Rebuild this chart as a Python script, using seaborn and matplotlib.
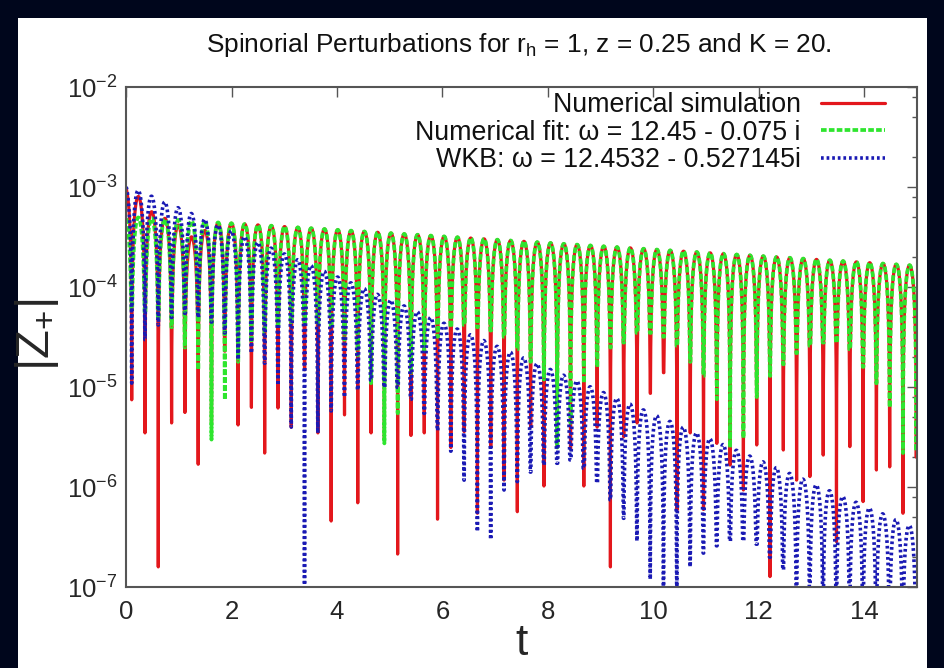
import numpy as np
import pandas as pd
import matplotlib
matplotlib.use("Agg")
import matplotlib.pyplot as plt
import seaborn as sns
from matplotlib.patches import Rectangle
from matplotlib.ticker import FixedLocator, FuncFormatter, NullFormatter

# ---------------- data ----------------
t_limits = [0.0, 15.0]
x_ticks = [0, 2, 4, 6, 8, 10, 12, 14]
y_decades = [-7, -6, -5, -4, -3, -2]
y_minor_mult = [2, 5, 8]

series_labels = ["Numerical simulation",
                 "Numerical fit: \u03c9 = 12.45 - 0.075 i",
                 "WKB: \u03c9 = 12.4532 - 0.527145i"]

# complex frequencies quoted in the legend (Re, -Im)
omega_fit = [12.45, 0.075]
omega_wkb = [12.4532, 0.527145]

first_node_t = 0.104          # time of the first zero of |Z+|
amp_fit = 5.08e-4             # fit amplitude at t = 0
amp_wkb = 1.05e-3             # WKB amplitude at t = 0
# peaks of the first humps of the simulation (before it merges with the fit)
sim_early_peaks = [1.0e-3, 8.1e-4, 5.7e-4, 4.9e-4, 4.2e-4, 3.2e-4, 3.7e-4, 4.4e-4]

# depth of each dip (one per zero crossing, k = 0..59)
sim_dips = [7.5e-6, 3.5e-6, 1.6e-7, 4.4e-6, 5.6e-6, 1.7e-6, 4.4e-6, 2.3e-5, 4.2e-6, 6.3e-6,
            2.2e-6, 6.2e-6, 4.0e-6, 1.5e-5, 3.5e-6, 4.6e-7, 5.3e-6, 7.0e-7, 3.5e-6, 3.0e-6,
            2.15e-7, 3.3e-6, 3.5e-6, 4.8e-7, 2.5e-6, 3.6e-6, 5.5e-7, 2.6e-6, 1.18e-6, 5.7e-7,
            4.0e-6, 1.03e-6, 2.5e-6, 2.4e-6, 1.03e-6, 4.0e-6, 1.6e-7, 3.2e-6, 4.4e-6, 8.7e-6,
            1.4e-5, 5.9e-7, 3.5e-6, 6.0e-7, 2.75e-6, 1.67e-6, 9.4e-7, 2.65e-6, 1.28e-7, 2.36e-6,
            1.18e-6, 1.28e-6, 2.1e-6, 2.86e-7, 2.55e-6, 7.2e-7, 1.49e-6, 1.6e-6, 5.5e-7, 2.0e-6]
fit_dips = [6.0e-5, 5.5e-5, 4.8e-5, 4.0e-5, 2.5e-5, 1.5e-5, 3.0e-6, 7.5e-6, 1.8e-5, 2.8e-5,
            3.5e-5, 4.2e-5, 4.5e-5, 4.5e-5, 4.2e-5, 4.0e-5, 3.0e-5, 2.1e-5, 1.1e-5, 2.75e-6,
            5.5e-6, 1.4e-5, 2.3e-5, 3.2e-5, 4.0e-5, 4.2e-5, 4.0e-5, 3.7e-5, 3.2e-5, 2.4e-5,
            1.8e-5, 1.2e-5, 2.5e-6, 4.4e-6, 1.1e-5, 1.6e-5, 2.5e-5, 2.8e-5, 3.5e-5, 3.5e-5,
            3.2e-5, 2.6e-5, 1.8e-5, 1.3e-5, 7.6e-6, 2.5e-6, 3.1e-6, 8.0e-6, 1.3e-5, 1.7e-5,
            2.2e-5, 2.6e-5, 2.8e-5, 2.8e-5, 2.4e-5, 1.6e-5, 1.1e-5, 6.3e-6, 2.2e-6, 2.3e-6]
wkb_dips = [1.1e-5, 3.0e-5, 4.2e-5, 5.0e-5, 5.5e-5, 5.0e-5, 4.5e-5, 3.5e-5, 1.9e-5, 2.2e-5,
            1.74e-5, 1.05e-5, 4.0e-6, 4.0e-8, 3.5e-6, 5.8e-6, 8.0e-6, 9.4e-6, 1.18e-5, 1.0e-5,
            1.0e-5, 7.6e-6, 5.5e-6, 3.7e-6, 2.3e-6, 1.18e-6, 3.6e-7, 3.0e-7, 9.4e-7, 1.14e-6,
            1.42e-6, 1.67e-6, 1.74e-6, 1.88e-6, 1.55e-6, 1.1e-6, 7.5e-7, 4.9e-7, 2.9e-7, 1.2e-7,
            5.0e-8, 5.0e-8, 1.6e-7, 2.2e-7, 2.6e-7, 2.9e-7, 2.9e-7, 2.7e-7, 2.0e-7, 1.5e-7,
            5.0e-8, 5.0e-8, 5.0e-8, 5.0e-8, 5.0e-8, 5.0e-8, 5.0e-8, 5.0e-8, 5.0e-8, 5.0e-8]

series_colors = ["#e3171c", "#2ee52e", "#1a1ab4"]


def damped_mode(omega, gamma, amp, dips, early_peaks=None):
    period = np.pi / omega
    nodes = first_node_t + period * np.arange(len(dips))
    grid = np.linspace(t_limits[0], t_limits[1], 30001)
    t = np.union1d(grid, nodes[nodes <= t_limits[1]])
    phase = np.pi / 2 - omega * first_node_t
    env = amp * np.exp(-gamma * t)
    if early_peaks is not None:
        hump = np.searchsorted(nodes, t, side="left")
        for j, p in enumerate(early_peaks):
            env[hump == j] = p
    y = env * np.abs(np.cos(omega * t + phase))
    k = np.clip(np.rint((t - first_node_t) / period).astype(int), 0, len(dips) - 1)
    y = np.maximum(y, np.asarray(dips)[k])
    return pd.DataFrame({"t": t, "Z": y})


df_sim = damped_mode(omega_fit[0], omega_fit[1], amp_fit, sim_dips, sim_early_peaks)
df_fit = damped_mode(omega_fit[0], omega_fit[1], amp_fit, fit_dips)
df_wkb = damped_mode(omega_wkb[0], omega_wkb[1], amp_wkb, wkb_dips)

# ---------------- styling ----------------
sns.set_theme(style="white")
plt.rcParams["font.family"] = ["Liberation Sans", "DejaVu Sans"]
plt.rcParams["mathtext.fontset"] = "custom"
plt.rcParams["mathtext.rm"] = "Liberation Sans"
plt.rcParams["mathtext.it"] = "Liberation Sans:italic"
plt.rcParams["text.color"] = "#111111"

W, H = 944, 668
fig = plt.figure(figsize=(W / 100, H / 100), dpi=100, facecolor="#00061c")
fig.patches.append(Rectangle((18 / W, 0), (927 - 18) / W, 1 - 18 / H,
                             transform=fig.transFigure, facecolor="white",
                             edgecolor="none", zorder=-10))
ax = fig.add_axes([126.2 / W, 1 - 587.3 / H, (916.7 - 126.2) / W, 500 / H])
ax.set_facecolor("white")

sns.lineplot(data=df_sim, x="t", y="Z", ax=ax, color=series_colors[0], lw=2.3,
             estimator=None, sort=False, label=series_labels[0])
sns.lineplot(data=df_fit, x="t", y="Z", ax=ax, color=series_colors[1], lw=2.7,
             estimator=None, sort=False, label=series_labels[1],
             linestyle=(0, (1.5, 0.6)))
sns.lineplot(data=df_wkb, x="t", y="Z", ax=ax, color=series_colors[2], lw=2.6,
             estimator=None, sort=False, label=series_labels[2],
             linestyle=(0, (0.75, 0.8)))

ax.set_yscale("log")
ax.set_xlim(*t_limits)
ax.set_ylim(10.0 ** y_decades[0], 10.0 ** y_decades[-1])

ax.xaxis.set_major_locator(FixedLocator(x_ticks))
ax.yaxis.set_major_locator(FixedLocator([10.0 ** e for e in y_decades]))
ax.yaxis.set_minor_locator(FixedLocator([m * 10.0 ** e for e in y_decades[:-1]
                                         for m in y_minor_mult]))
ax.yaxis.set_minor_formatter(NullFormatter())
ax.yaxis.set_major_formatter(FuncFormatter(
    lambda v, p: r"$\mathregular{10^{%d}}$" % round(np.log10(v))))
ax.xaxis.set_major_formatter(FuncFormatter(lambda v, p: "%d" % round(v)))

frame_col = "#555555"
for s in ax.spines.values():
    s.set_color(frame_col)
    s.set_linewidth(1.5)
ax.tick_params(which="both", direction="in", top=True, right=True,
               color=frame_col, width=1.0)
ax.tick_params(which="major", length=7)
ax.tick_params(which="minor", length=3.6)
ax.tick_params(axis="y", which="major", labelsize=18.5, pad=6)
ax.tick_params(axis="x", which="major", labelsize=18.5, pad=9)

ax.set_xlabel("t", fontsize=32)
ax.xaxis.label.set_va("baseline")
ax.xaxis.set_label_coords(0.5, (587.3 - 655) / 500)
ax.set_ylabel(r"|Z$_\mathregular{+}$|", fontsize=34)
ax.yaxis.label.set_va("center")
ax.yaxis.set_label_coords((37 - 126.2) / 790.5, (587.3 - 335) / 500)

fig.text(0.55, 1 - 45 / H,
         r"Spinorial Perturbations for r$_\mathregular{h}$ = 1, z = 0.25 and K = 20.",
         ha="center", va="center", fontsize=18.9)

leg = ax.legend(loc="upper right", bbox_to_anchor=((885 - 126.2) / 790.5, 0.99),
                frameon=False, markerfirst=False, fontsize=19.3,
                handlelength=2.4, handletextpad=0.75, labelspacing=0.05,
                borderpad=0, borderaxespad=0)

fig.savefig("out.png", dpi=100, facecolor=fig.get_facecolor())
